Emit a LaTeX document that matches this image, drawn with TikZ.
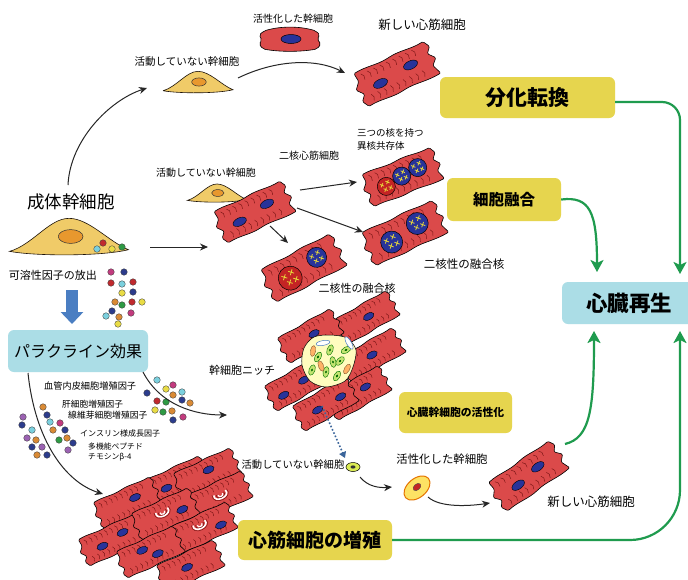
\documentclass[tikz,border=0pt]{standalone}
\usepackage{fontspec}
\setmainfont{Noto Sans CJK JP}
\usetikzlibrary{arrows.meta}

\definecolor{myored}{HTML}{DB4A4A}
\definecolor{myodark}{HTML}{7A1414}
\definecolor{nucblue}{HTML}{28339A}
\definecolor{nucred}{HTML}{C42424}
\definecolor{stemyel}{HTML}{F0CB68}
\definecolor{stemnuc}{HTML}{E8982E}
\definecolor{boxyel}{HTML}{E6D54E}
\definecolor{boxcyan}{HTML}{ABDDE6}
\definecolor{regreen}{HTML}{1F9B4E}
\definecolor{parablue}{HTML}{4A7EC2}
\definecolor{dmag}{HTML}{C23B7E}
\definecolor{dnavy}{HTML}{2C3C8C}
\definecolor{dred}{HTML}{C02A2E}
\definecolor{dcyan}{HTML}{7BD0DE}
\definecolor{dyel}{HTML}{E9DC45}
\definecolor{dora}{HTML}{D98A35}
\definecolor{dgrn}{HTML}{2E9A44}
\definecolor{dpur}{HTML}{9B62B2}
\definecolor{chromo}{HTML}{E8D83A}

\newcommand\fs[1]{\fontsize{#1}{#1}\selectfont}

% cardiomyocyte: x, y, rotation, scale, inner drawing (local coordinates)
\newcommand\myo[5]{%
  \begin{scope}[shift={(#1,#2)},rotate=#3,scale=#4]
    \filldraw[fill=myored, draw=black, line width=0.6pt, rounded corners=1.2pt]
      (-38,-18) .. controls (-24,-20) and (-14,-16) .. (0,-18)
      .. controls (14,-20) and (24,-16) .. (38,-18)
      -- (42,-11) -- (37,-5) -- (43,2) -- (37,8) -- (41,18)
      .. controls (24,20) and (14,16) .. (0,18)
      .. controls (-14,20) and (-24,16) .. (-38,18)
      -- (-42,11) -- (-37,5) -- (-43,-2) -- (-37,-9) -- cycle;
    \foreach \s in {-32,-25,...,30} {
      \draw[myodark, line width=0.45pt] (\s,-15) .. controls (\s+2.5,-14) and (\s+3,-10.5) .. (\s+1.5,-8);
      \draw[myodark, line width=0.45pt] (\s+1,8) .. controls (\s+3,9.5) and (\s+3,13) .. (\s+1,15);
    }
    #5
  \end{scope}}

% small nucleus of a cardiomyocyte
\newcommand\nuc[2]{\filldraw[fill=nucblue, draw=black, line width=0.4pt] (#1,#2) ellipse [x radius=7.5, y radius=4.2];}

% large nucleus with chromosomes: x, y, radius, colour
\newcommand\bnuc[4]{%
  \filldraw[fill=#4, draw=black, line width=0.5pt] (#1,#2) circle [radius=#3];
  \begin{scope}[shift={(#1,#2)}, scale=#3/10, chromo, line width=0.8pt]
    \foreach \cx/\cy in {-4/-3, 3/-4, -2/3, 4/3} {
      \draw (\cx-1.8,\cy-1.8) -- (\cx+1.8,\cy+1.8) (\cx-1.8,\cy+1.8) -- (\cx+1.8,\cy-1.8);
    }
  \end{scope}}

% mitotic spindle of a dividing cardiomyocyte
\newcommand\spindle[2]{%
  \begin{scope}[shift={(#1,#2)}]
    \draw[white, line width=1.6pt] (-8,-6) .. controls (-12,4) and (12,4) .. (8,-6);
    \draw[myodark, line width=0.6pt] (-5,-5) .. controls (-8,2) and (8,2) .. (5,-5);
    \draw[white, line width=1.2pt] (-3,-4) .. controls (-4,0) and (4,0) .. (3,-4);
    \draw[myodark, line width=0.5pt] (-10,-7) .. controls (-15,7) and (15,7) .. (10,-7);
  \end{scope}}

% dormant (tent shaped) stem cell: x, y, scale
\newcommand\stem[3]{%
  \begin{scope}[shift={(#1,#2)},scale=#3]
    \filldraw[fill=stemyel, draw=black!85!brown, line width=0.6pt]
      (-36,9) .. controls (-22,5) and (-12,-11) .. (0,-11)
      .. controls (12,-11) and (24,3) .. (36,8)
      .. controls (20,12) and (-20,12) .. cycle;
    \filldraw[fill=stemnuc, draw=black!80, line width=0.5pt] (1,0) ellipse [x radius=7.5, y radius=4.2];
  \end{scope}}

% secreted factor
\newcommand\dt[3]{\filldraw[fill=#3, draw=black!75, line width=0.35pt] (#1,#2) circle [radius=3.3];}

\begin{document}
\begin{tikzpicture}[x=1pt, y=-1pt,
  lab/.style={inner sep=0pt, font=\fs{10.5}},
  ybox/.style={fill=boxyel, rounded corners=6pt, inner sep=0pt},
  cbox/.style={fill=boxcyan, rounded corners=6pt, inner sep=0pt},
  arr/.style={-{Stealth[length=8pt,width=7pt]}, line width=1pt, black!85},
  garr/.style={-{Stealth[length=12pt,width=13pt,inset=3pt]}, line width=2.2pt, regreen},
]
\fill[white] (0,0) rectangle (688,579);
\useasboundingbox (0,0) rectangle (688,579);

% ---------- top row cells ----------
\begin{scope}[shift={(290,40)}]
  \filldraw[fill=myored, draw=black, line width=0.6pt, rounded corners=2pt]
    (-26,-9) .. controls (-10,-14) and (10,-14) .. (26,-9) -- (30,-5) -- (27,-1) -- (31,4) -- (27,9)
    .. controls (10,12) and (-10,12) .. (-27,9) -- (-31,4) -- (-28,0) -- (-31,-5) -- cycle;
  \filldraw[fill=nucblue, draw=black, line width=0.5pt] (1,-1) ellipse [x radius=10, y radius=4.5];
\end{scope}
\stem{198}{82}{0.97}
\myo{396}{74}{25}{1}{\nuc{-18}{2}\nuc{17}{-2}}

% ---------- adult stem cell ----------
\stem{69}{236.5}{1.65}
\dt{97}{249}{dcyan}\dt{103}{243}{dred}\dt{112}{249}{dyel}\dt{122}{247}{dgrn}
\dt{111}{272}{dmag}\dt{124}{272}{dnavy}\dt{111}{283}{dred}\dt{122}{284}{dcyan}
\dt{133}{282}{dred}\dt{122}{293}{dyel}\dt{133}{292}{dnavy}\dt{115}{302}{dora}
\dt{122}{305}{dgrn}\dt{132}{302}{dred}\dt{142}{302}{dyel}\dt{106}{316}{dcyan}
\dt{112}{311}{dnavy}\dt{119}{317}{dora}\dt{131}{313}{dmag}\dt{118}{324}{dyel}

% ---------- cell fusion ----------
\stem{217}{193}{0.82}
\myo{254}{212}{25}{0.95}{\nuc{-18}{3}\nuc{16}{-2}}
\myo{402}{177}{22}{0.95}{\bnuc{-19}{3}{9.5}{nucred}\bnuc{0}{-1}{9.5}{nucblue}\bnuc{19}{-3}{9.5}{nucblue}}
\myo{404}{233}{25}{1}{\bnuc{-15}{3}{11}{nucblue}\bnuc{16}{-3}{11}{nucblue}}
\myo{303}{268}{28}{1}{\bnuc{-16}{3}{12}{nucred}\bnuc{17}{-3}{10}{nucblue}}

% ---------- stem cell niche ----------
\myo{366}{318}{30}{0.78}{\nuc{4}{0}}
\myo{310}{336}{30}{0.78}{\nuc{6}{0}}
\myo{372}{355}{30}{0.78}{\nuc{0}{0}}
\myo{297}{384}{30}{0.78}{\nuc{10}{0}\nuc{-22}{4}}
\myo{358}{393}{30}{0.78}{\nuc{12}{-2}}
\myo{325}{404}{30}{0.78}{\nuc{-12}{2}\nuc{22}{2}}
\filldraw[fill=yellow!25!white, draw=black, line width=0.5pt]
  plot[smooth cycle] coordinates {(304,348) (314,337) (330,335) (347,338) (356,350) (353,367) (345,381) (326,387) (310,381) (302,365)};
\foreach \ex/\ey/\er in {318/357/60, 330/350/70, 340/361/45, 326/372/80, 337/376/60, 346/350/30, 312/370/70, 333/362/100} {
  \filldraw[fill=yellow!60!green!60, draw=green!45!black, line width=0.4pt, rotate around={\er:(\ex,\ey)}] (\ex,\ey) ellipse [x radius=5.5, y radius=3];
  \fill[green!40!black, rotate around={\er:(\ex,\ey)}] (\ex,\ey) ellipse [x radius=1.5, y radius=1];
}
\foreach \ex/\ey/\er in {313/351/80, 321/366/-70, 347/369/60} {
  \filldraw[fill=orange!60, draw=brown!70!black, line width=0.4pt, rotate around={\er:(\ex,\ey)}] (\ex,\ey) ellipse [x radius=5.5, y radius=2.6];
}
\filldraw[fill=white, draw=parablue, line width=0.5pt, rotate around={10:(323,343)}] (323,343) ellipse [x radius=7, y radius=2.4];
\filldraw[fill=white, draw=parablue, line width=0.5pt, rotate around={-60:(349,343)}] (349,343) ellipse [x radius=7, y radius=2.4];

% ---------- cardiac stem cell activation ----------
\filldraw[fill=yellow!80!green!70, draw=black, line width=0.5pt] (353,467) ellipse [x radius=7, y radius=4.5];
\fill[black!80] (353,467) ellipse [x radius=2.5, y radius=1.6];
\filldraw[fill=yellow!70!orange!60, draw=orange!90!black, line width=1pt, rotate around={40:(417,488)}] (417,488) ellipse [x radius=15, y radius=9.5];
\filldraw[fill=nucred, draw=black!70, line width=0.4pt, rotate around={40:(417,487)}] (417,487) ellipse [x radius=4.5, y radius=3];
\myo{528}{476}{35}{0.95}{\nuc{-14}{2}\nuc{14}{-2}}

% ---------- paracrine factors ----------
\dt{157}{380}{dcyan}\dt{166}{389}{dyel}\dt{173}{385}{dmag}\dt{182}{392}{dcyan}
\dt{147}{393}{dnavy}\dt{173}{395}{dora}\dt{157}{401}{dred}\dt{166}{402}{dgrn}
\dt{182}{400}{dnavy}\dt{190}{403}{dora}\dt{155}{410}{dyel}\dt{163}{412}{dgrn}
\dt{172}{411}{dora}\dt{173}{420}{dnavy}\dt{183}{417}{dmag}
\dt{23}{417}{dpur}\dt{43}{407}{dora}\dt{47}{415}{dnavy}\dt{22}{425}{dnavy}
\dt{32}{430}{dcyan}\dt{50}{422}{dcyan}\dt{60}{423}{dmag}\dt{53}{430}{dora}
\dt{65}{430}{dnavy}\dt{27}{438}{dpur}\dt{36}{440}{dora}\dt{59}{440}{dgrn}
\dt{67}{438}{dora}\dt{32}{447}{dnavy}\dt{42}{447}{dpur}\dt{73}{443}{dnavy}
\dt{68}{450}{dpur}\dt{37}{455}{dora}\dt{47}{455}{dnavy}

% ---------- proliferating cardiomyocytes ----------
\myo{176}{482}{25}{0.8}{\nuc{-14}{2}}
\myo{207}{474}{25}{0.8}{\nuc{4}{-4}}
\myo{127}{503}{25}{0.8}{\nuc{12}{-2}}
\myo{218}{497}{25}{0.8}{\spindle{4}{2}}
\myo{112}{540}{25}{0.8}{\nuc{-14}{2}\nuc{16}{-3}}
\myo{165}{514}{25}{0.8}{\spindle{-2}{0}\nuc{22}{4}}
\myo{203}{528}{25}{0.8}{\spindle{-2}{-2}\nuc{22}{6}}
\myo{150}{552}{25}{0.8}{\nuc{-8}{-6}\nuc{8}{6}}
\myo{190}{566}{25}{0.8}{\nuc{-4}{0}}

% ---------- boxes ----------
\node[ybox, minimum width=175, minimum height=41] (diff) at (527.5,97.5) {\fs{21}\bfseries 分化転換};
\node[ybox, minimum width=114, minimum height=43] (fuse) at (504,199.5) {\fs{15.5}\bfseries 細胞融合};
\node[cbox, minimum width=134, minimum height=42] (regen) at (629,303) {\fs{21.5}\bfseries 心臓再生};
\node[ybox, minimum width=113, minimum height=41] (csact) at (455.5,412.5) {\fs{10.8}\bfseries 心臓幹細胞の活性化};
\node[ybox, minimum width=154, minimum height=40] (prolif) at (315,540) {\fs{19}\bfseries 心筋細胞の増殖};
\node[cbox, minimum width=140, minimum height=42] (para) at (78,351) {\fs{16}パラクライン効果};

% ---------- labels ----------
\node[lab, font=\fs{10}] (l1) at (293,19) {活性化した幹細胞};
\node[lab, font=\fs{12.5}] (l2) at (422,25) {新しい心筋細胞};
\node[lab] (l3) at (187,62) {活動していない幹細胞};
\node[lab, font=\fontsize{9.5}{13}\selectfont, align=left, anchor=west] (l4) at (357,139) {三つの核を持つ\\異核共存体};
\node[lab, font=\fs{10}] (l5) at (309,156) {二核心筋細胞};
\node[lab, font=\fs{10}] (l6) at (206,173) {活動していない幹細胞};
\node[lab, font=\fs{17.5}] (adult) at (71,202) {成体幹細胞};
\node[lab, font=\fs{11}] (l7) at (53,275) {可溶性因子の放出};
\node[lab, font=\fs{11}] (l8) at (357,288) {二核性の融合核};
\node[lab, font=\fs{11.5}] (l9) at (464,264) {二核性の融合核};
\node[lab, font=\fs{11}] (l10) at (242,370) {幹細胞ニッチ};
\node[lab, font=\fs{9.2}, anchor=west] (f1) at (44,386) {血管内皮細胞増殖因子};
\node[lab, font=\fs{8.7}, anchor=west] (f2) at (62,404) {肝細胞増殖因子};
\node[lab, font=\fs{8.8}, anchor=west] (f3) at (68,415) {線維芽細胞増殖因子};
\node[lab, font=\fs{8}, anchor=west] (f4) at (80,433) {インスリン様成長因子};
\node[lab, font=\fs{7.8}, anchor=west] (f5) at (88,447) {多機能ペプチド};
\node[lab, font=\fs{7.8}, anchor=west] (f6) at (88,457) {チモシンβ-4};
\node[lab, font=\fs{10.3}] (l11) at (293,465) {活動していない幹細胞};
\node[lab, font=\fs{11.4}] (l12) at (442,459) {活性化した幹細胞};
\node[lab, font=\fs{12.5}] (l13) at (591,502) {新しい心筋細胞};

% ---------- connector end points ----------
\coordinate (a1s) at (68,185);   \coordinate (a1e) at (147,88);
\coordinate (a2s) at (238,78);   \coordinate (a2e) at (345,73);
\coordinate (a3s) at (150,247);  \coordinate (a3e) at (208,247);
\coordinate (a4s) at (300,190);  \coordinate (a4e) at (357,182);
\coordinate (a5s) at (297,208);  \coordinate (a5e) at (363,232);
\coordinate (a6s) at (270,226);  \coordinate (a6e) at (288,243);
\coordinate (a7s) at (143,372);  \coordinate (a7e) at (227,415);
\coordinate (a8s) at (28,373);   \coordinate (a8e) at (103,494);
\coordinate (a9s) at (360,477);  \coordinate (a9e) at (392,487);
\coordinate (a10s) at (428,497); \coordinate (a10e) at (490,503);
\coordinate (nis) at (322,406);  \coordinate (nie) at (345,458);
\coordinate (bas) at (72,290);   \coordinate (bae) at (72,324);
\coordinate (g1e) at (680,274);
\coordinate (g2e) at (597,272);
\coordinate (g3s) at (565,444);  \coordinate (g3e) at (594,331);
\coordinate (g4e) at (680,331);

% ---------- black arrows ----------
\draw[arr] (a1s) .. controls (70,140) and (110,100) .. (a1e);
\draw[arr] (a2s) .. controls (275,60) and (315,58) .. (a2e);
\draw[arr] (a3s) -- (a3e);
\draw[arr] (a4s) -- (a4e);
\draw[arr] (a5s) -- (a5e);
\draw[arr] (a6s) -- (a6e);
\draw[arr] (a7s) .. controls (160,405) and (195,415) .. (a7e);
\draw[arr] (a8s) .. controls (35,440) and (65,482) .. (a8e);
\draw[arr] (a9s) .. controls (368,487) and (380,488) .. (a9e);
\draw[arr] (a10s) .. controls (440,508) and (470,506) .. (a10e);
\draw[-{Triangle[length=6pt,width=7pt]}, parablue!80!black, line width=1.6pt, dotted] (nis) -- (nie);
\draw[-{Triangle[length=12pt,width=22pt]}, line width=12pt, parablue] (bas) -- (bae);

% ---------- green arrows ----------
\draw[garr, rounded corners=18pt] ([yshift=-4.5pt]diff.east) -| (g1e);
\draw[garr] (fuse.east) .. controls (590,196) and (597,212) .. (g2e);
\draw[garr] (g3s) .. controls (590,438) and (594,410) .. (g3e);
\draw[garr, rounded corners=50pt] (prolif.east) -| (g4e);
\end{tikzpicture}
\end{document}
